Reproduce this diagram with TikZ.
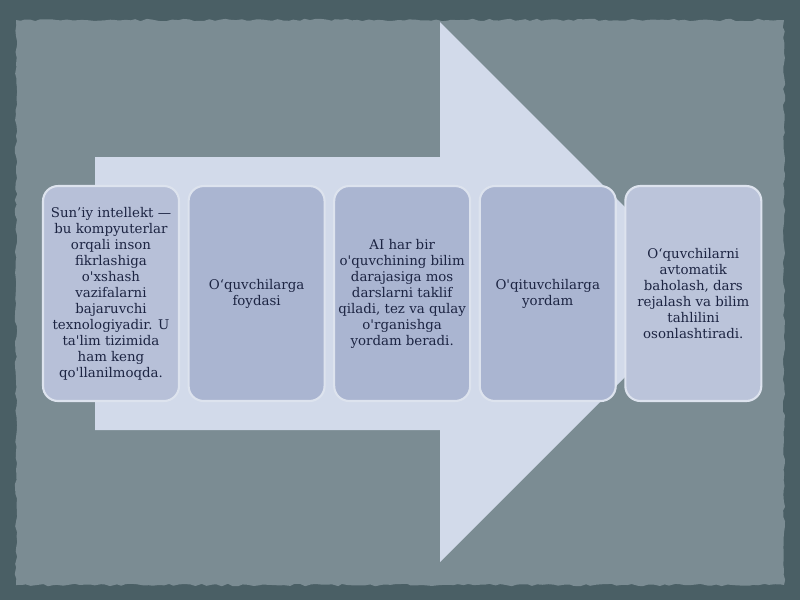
\documentclass[tikz,border=0pt]{standalone}
\usepackage{fontspec}
\setmainfont{DejaVu Serif}[Ligatures=TeXOff]
\usetikzlibrary{positioning,decorations.pathmorphing}
\definecolor{fonrang}{HTML}{4A5F65}
\definecolor{varaq}{HTML}{7B8C93}
\definecolor{strelka}{HTML}{D2DAEA}
\definecolor{qutirang}{HTML}{AAB5D1}
\definecolor{qutichet}{HTML}{DDE3EE}
\definecolor{matn}{HTML}{1C2442}

\begin{document}
\begin{tikzpicture}[x=0.02cm, y=-0.02cm,
	qutibox/.style={draw=qutichet, fill=qutirang, line width=1.2pt, rounded corners=0.3cm,
		minimum width=2.72cm, minimum height=4.3cm, align=center, text=matn,
		font=\fontsize{7.6}{9.1}\selectfont, inner sep=2pt}]
			% 背景
			\fill[fonrang] (0,0) rectangle (800,600);
			\useasboundingbox (0,0) rectangle (800,600);
			\pgfmathsetseed{7}
			\fill[varaq, decorate, decoration={random steps, segment length=3pt, amplitude=0.7pt}]
				(16,20) rectangle (784,585);
			% 箭头
			\fill[strelka] (95,157) -- (440,157) -- (440,22) -- (710,292)
				-- (440,562) -- (440,430) -- (95,430) -- cycle;
			% 方框
			\node[qutibox, fill=qutirang!85!white] (b1) at (111,293.5)
				{Sun’iy intellekt —\\bu kompyuterlar\\orqali inson\\fikrlashiga\\o'xshash\\vazifalarni\\bajaruvchi\\texnologiyadir. U\\ta'lim tizimida\\ham keng\\qo'llanilmoqda.};
			\node[qutibox, right=0.15cm of b1] (b2) {O‘quvchilarga\\foydasi};
			\node[qutibox, right=0.15cm of b2] (b3)
				{AI har bir\\o'quvchining bilim\\darajasiga mos\\darslarni taklif\\qiladi, tez va qulay\\o'rganishga\\yordam beradi.};
			\node[qutibox, right=0.15cm of b3] (b4) {O'qituvchilarga\\yordam};
			\node[qutibox, fill=qutirang!80!white, right=0.15cm of b4] (b5)
				{O‘quvchilarni\\avtomatik\\baholash, dars\\rejalash va bilim\\tahlilini\\osonlashtiradi.};
		\end{tikzpicture}
\end{document}
